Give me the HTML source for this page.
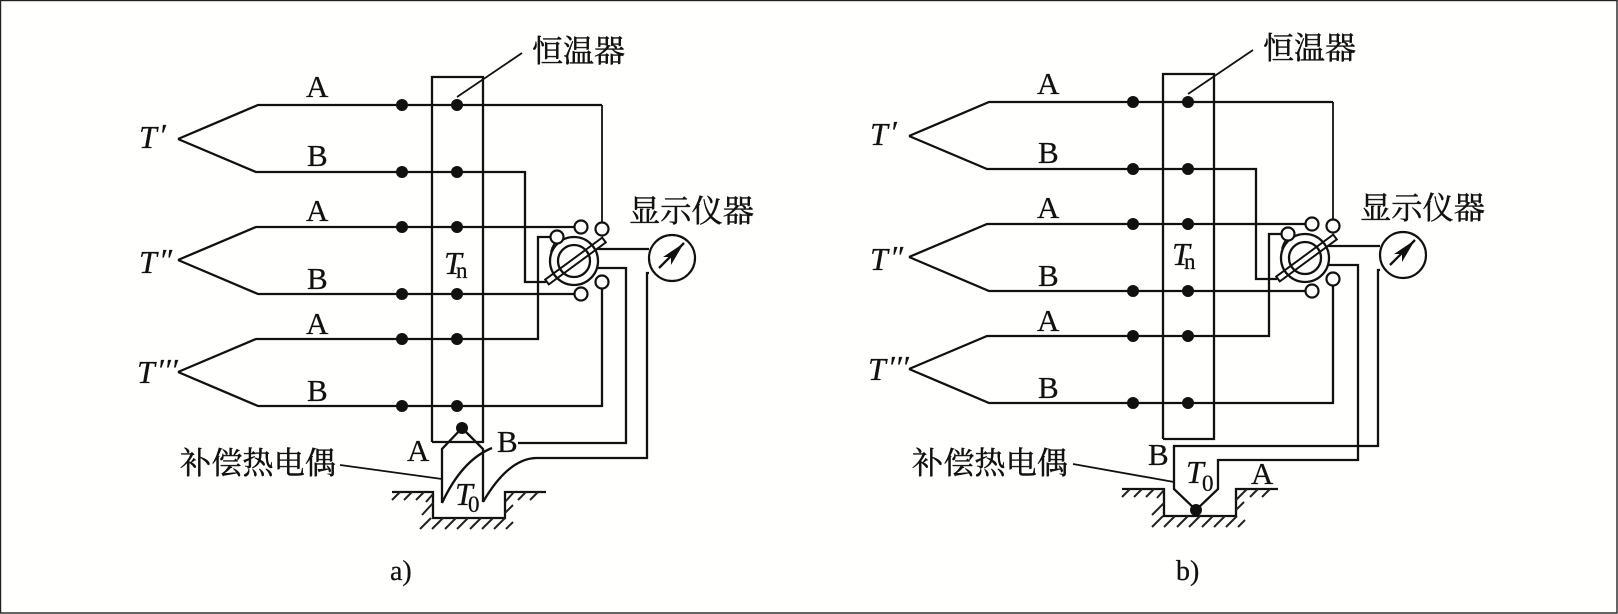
<!DOCTYPE html>
<html>
<head>
<meta charset="utf-8">
<style>
html,body{margin:0;padding:0;background:#fffffd;}
svg{display:block;}
text{font-family:"Liberation Serif","Noto Serif CJK SC",serif;fill:#111;font-size:31px;stroke:#111;stroke-width:.25;}
.i{font-style:italic;font-size:32px;}
.c{font-size:31px;font-family:"Noto Serif CJK SC","Liberation Serif",serif;stroke-width:.45;}
.s{font-size:23px;}
.w{fill:none;stroke:#111;stroke-width:2.3;}
.t{fill:none;stroke:#111;stroke-width:1.8;}
.h{fill:none;stroke:#222;stroke-width:2;}
.o{fill:#fffffd;stroke:#111;stroke-width:2.2;}
</style>
</head>
<body>
<svg width="1618" height="614" viewBox="0 0 1618 614" xmlns="http://www.w3.org/2000/svg">
<rect x="0.5" y="0.5" width="1616.5" height="612.5" fill="#fffffd" stroke="#222" stroke-width="1.4"/>

<!-- Diagram a -->
<g>
<path class="w" d="M432 442V77H483V442H432"/>
<path class="t" d="M457 97L522 53"/>
<path class="w" d="M178 139L258 105H602 M178 139L256 172H525V282H546 M178 260L256 227H575 M178 260L258 294H575 M178 372L256 339H538V237H551 M178 372L258 406H602V288"/>
<path class="t" d="M602 105V223"/>
<g fill="#111">
<circle cx="402" cy="105" r="6"/><circle cx="457" cy="105" r="6"/>
<circle cx="402" cy="172" r="6"/><circle cx="457" cy="172" r="6"/>
<circle cx="402" cy="227" r="6"/><circle cx="457" cy="227" r="6"/>
<circle cx="402" cy="294" r="6"/><circle cx="457" cy="294" r="6"/>
<circle cx="402" cy="339" r="6"/><circle cx="457" cy="339" r="6"/>
<circle cx="402" cy="406" r="6"/><circle cx="457" cy="406" r="6"/>
<circle cx="462" cy="428" r="6"/>
</g>
<circle class="w" cx="574" cy="261" r="24"/>
<circle class="w" cx="574" cy="261" r="16"/>
<polygon points="545.2,279.6 602.2,237.6 605.8,242.4 548.8,284.4" fill="none" stroke="#111" stroke-width="2"/>
<path class="t" d="M555 243Q552 247 551 252"/>
<circle class="o" cx="581" cy="227" r="6.5"/>
<circle class="o" cx="602" cy="229" r="6.5"/>
<circle class="o" cx="557" cy="237" r="6.5"/>
<circle class="o" cx="602" cy="282" r="6.5"/>
<circle class="o" cx="581" cy="294" r="6.5"/>
<circle class="o" cx="672" cy="258" r="23"/>
<path class="w" d="M597 249H649 M598 268H626V443H518 M649 273H647V458H537C515 458 497 478 483 502"/>
<path class="w" d="M659 268L684 243"/>
<polygon points="684,243 663,257 671,257 671,265" fill="#111"/>
<path class="w" d="M462 428L442 449V503 M462 428L483 449V502 M442 503Q462 460 492 448"/>
<path class="t" d="M340 465L442 479"/>
<path class="w" d="M392 492H433V518H505V492H546"/>
<path class="h" d="M392 500l8-8M404 500l8-8M416 500l8-8M426 502l7-8M422 515l11-12M420 529l11-11M432 529l11-11M445 529l11-11M457 529l11-11M470 529l11-11M482 529l11-11M494 529l11-11M506 529l7-7M505 513l8-8M505 502l9-10M518 500l8-8M530 500l8-8"/>
<text x="306" y="97">A</text>
<text x="307" y="166">B</text>
<text x="306" y="221">A</text>
<text x="307" y="289">B</text>
<text x="306" y="334">A</text>
<text x="307" y="401">B</text>
<text class="i" x="139" y="148">T<tspan dx="2" dy="-2">′</tspan></text>
<text class="i" x="139" y="273">T<tspan dx="2" dy="-2">″</tspan></text>
<text class="i" x="137" y="383">T<tspan dx="2" dy="-2">′′′</tspan></text>
<text class="i" x="444" y="274">T</text><text class="s" x="456" y="278">n</text>
<text x="407" y="461">A</text>
<text x="497" y="452">B</text>
<text class="i" x="455" y="505">T</text><text class="s" x="468" y="512">0</text>
<text class="c" x="532" y="62" textLength="93" lengthAdjust="spacingAndGlyphs">恒温器</text>
<text class="c" x="629" y="222" textLength="125" lengthAdjust="spacingAndGlyphs">显示仪器</text>
<text class="c" x="180" y="474" textLength="156" lengthAdjust="spacingAndGlyphs">补偿热电偶</text>
<text x="390" y="580" style="font-size:28px">a)</text>
</g>

<!-- Diagram b -->
<g>
<g transform="translate(731,-3)">
<path class="t" d="M457 97L522 53"/>
<path class="w" d="M178 139L258 105H602 M178 139L256 172H525V282H546 M178 260L256 227H575 M178 260L258 294H575 M178 372L256 339H538V237H551 M178 372L258 406H602V288"/>
<path class="w" d="M432 442V77H483V442H432"/>
<path class="t" d="M602 105V223"/>
<g fill="#111">
<circle cx="402" cy="105" r="6"/><circle cx="457" cy="105" r="6"/>
<circle cx="402" cy="172" r="6"/><circle cx="457" cy="172" r="6"/>
<circle cx="402" cy="227" r="6"/><circle cx="457" cy="227" r="6"/>
<circle cx="402" cy="294" r="6"/><circle cx="457" cy="294" r="6"/>
<circle cx="402" cy="339" r="6"/><circle cx="457" cy="339" r="6"/>
<circle cx="402" cy="406" r="6"/><circle cx="457" cy="406" r="6"/>
</g>
<circle class="w" cx="574" cy="261" r="24"/>
<circle class="w" cx="574" cy="261" r="16"/>
<polygon points="545.2,279.6 602.2,237.6 605.8,242.4 548.8,284.4" fill="none" stroke="#111" stroke-width="2"/>
<path class="t" d="M555 243Q552 247 551 252"/>
<circle class="o" cx="581" cy="227" r="6.5"/>
<circle class="o" cx="602" cy="229" r="6.5"/>
<circle class="o" cx="557" cy="237" r="6.5"/>
<circle class="o" cx="602" cy="282" r="6.5"/>
<circle class="o" cx="581" cy="294" r="6.5"/>
<circle class="o" cx="672" cy="258" r="23"/>
<path class="w" d="M597 249H649"/>
<path class="w" d="M659 268L684 243"/>
<polygon points="684,243 663,257 671,257 671,265" fill="#111"/>
</g>
<path class="w" d="M1329 265H1358V460H1218V489L1196 510L1174 489V446H1378V270H1380"/>
<circle cx="1196" cy="510" r="6" fill="#111"/>
<path class="t" d="M1073 464L1174 482"/>
<path class="w" d="M1122 489H1164V516H1236V489H1278"/>
<path class="h" d="M1122 497l8-8M1134 497l8-8M1146 497l8-8M1157 498l7-8M1152 515l12-12M1152 527l11-11M1164 527l11-11M1177 527l11-11M1189 527l11-11M1202 527l11-11M1214 527l11-11M1226 527l11-11M1238 527l7-7M1236 510l8-8M1236 500l11-11M1250 497l8-8M1262 497l8-8"/>
<text x="1037" y="94">A</text>
<text x="1038" y="163">B</text>
<text x="1037" y="218">A</text>
<text x="1038" y="286">B</text>
<text x="1037" y="331">A</text>
<text x="1038" y="398">B</text>
<text class="i" x="870" y="145">T<tspan dx="2" dy="-2">′</tspan></text>
<text class="i" x="870" y="270">T<tspan dx="2" dy="-2">″</tspan></text>
<text class="i" x="868" y="380">T<tspan dx="2" dy="-2">′′′</tspan></text>
<text class="i" x="1172" y="265">T</text><text class="s" x="1184" y="269">n</text>
<text x="1148" y="465">B</text>
<text x="1251" y="484">A</text>
<text class="i" x="1186" y="483">T</text><text class="s" x="1202" y="491">0</text>
<text class="c" x="1263" y="59" textLength="93" lengthAdjust="spacingAndGlyphs">恒温器</text>
<text class="c" x="1360" y="219" textLength="125" lengthAdjust="spacingAndGlyphs">显示仪器</text>
<text class="c" x="912" y="474" textLength="156" lengthAdjust="spacingAndGlyphs">补偿热电偶</text>
<text x="1176" y="580" style="font-size:28px">b)</text>
</g>
</svg>
</body>
</html>
